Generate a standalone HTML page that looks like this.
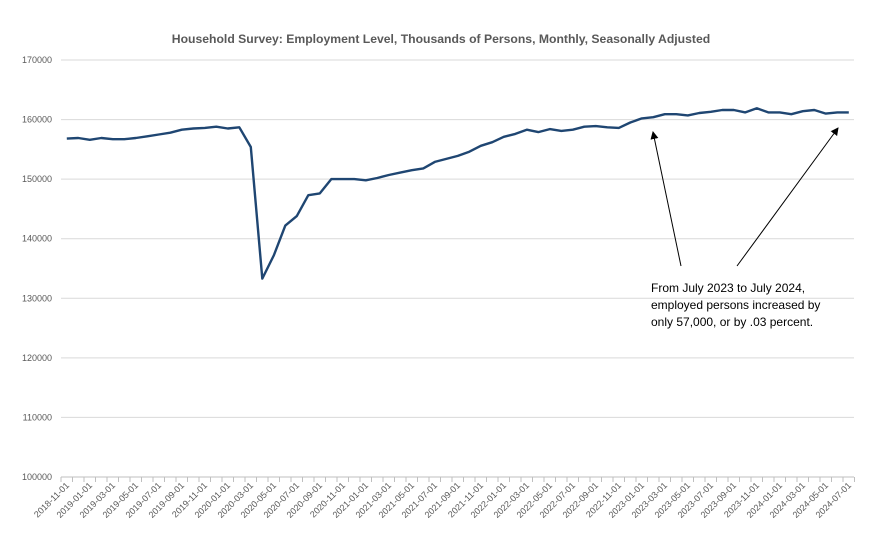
<!DOCTYPE html>
<html><head><meta charset="utf-8"><style>
body{margin:0;background:#fff}
svg{font-family:"Liberation Sans",sans-serif}
</style></head><body>
<svg id="s" width="873" height="544" viewBox="0 0 873 544" xmlns="http://www.w3.org/2000/svg">
<defs><marker id="ah" markerWidth="8" markerHeight="8" refX="7" refY="4" orient="auto" markerUnits="userSpaceOnUse"><path d="M0,0 L8,4 L0,8 z" fill="#000"/></marker></defs>
<text x="441" y="43" text-anchor="middle" font-size="12.2" font-weight="bold" fill="#595959">Household Survey: Employment Level, Thousands of Persons, Monthly, Seasonally Adjusted</text>
<g id="grid"></g>
<path id="line" fill="none" stroke="#1f4672" stroke-width="2.4" stroke-linejoin="round"/>
<line x1="681" y1="266" x2="653" y2="132" stroke="#000" stroke-width="1" marker-end="url(#ah)"/>
<line x1="737" y1="266" x2="838" y2="128" stroke="#000" stroke-width="1" marker-end="url(#ah)"/>
<text font-size="12" fill="#000"><tspan x="651" y="292">From July 2023 to July 2024,</tspan><tspan x="651" y="309">employed persons increased by</tspan><tspan x="651" y="326">only 57,000, or by .03 percent.</tspan></text>
</svg>
<script>
var d=[156.8,156.9,156.6,156.9,156.7,156.7,156.9,157.2,157.5,157.8,158.3,158.5,158.6,158.8,158.5,158.7,155.4,133.3,137.2,142.2,143.8,147.3,147.6,150.0,150.0,150.0,149.8,150.2,150.7,151.1,151.5,151.8,152.9,153.4,153.9,154.6,155.6,156.2,157.1,157.6,158.3,157.9,158.4,158.1,158.3,158.8,158.9,158.7,158.6,159.5,160.2,160.4,160.9,160.9,160.7,161.1,161.3,161.6,161.6,161.2,161.9,161.2,161.2,160.9,161.4,161.6,161.0,161.2,161.2];
var ns="http://www.w3.org/2000/svg",g=document.getElementById('grid');
function Y(v){return 60+(170-v)*417/70;}
function el(t,a,txt){var e=document.createElementNS(ns,t);for(var k in a)e.setAttribute(k,a[k]);if(txt)e.textContent=txt;g.appendChild(e);return e;}
for(var v=100;v<=170;v+=10){var y=Y(v);el('line',{x1:61,x2:854,y1:y,y2:y,stroke:v==100?'#bfbfbf':'#d9d9d9','stroke-width':1});el('text',{x:52,y:y+3,'text-anchor':'end','font-size':'9',fill:'#595959'},v*1000);}
var x0=61,w=11.5;
var p='';for(var i=0;i<d.length;i++){p+=(i?'L':'M')+(x0+w*(i+0.5)).toFixed(1)+','+Y(d[i]).toFixed(1);}
document.getElementById('line').setAttribute('d',p);
for(var i=0;i<=69;i++){var x=x0+w*i;el('line',{x1:x,x2:x,y1:477,y2:482,stroke:'#bfbfbf'});}
for(var i=0;i<69;i+=2){var m=10+i,yr=2018+Math.floor(m/12),mo=m%12+1;var x=x0+w*(i+0.5)+3;
el('text',{x:x,y:486,'text-anchor':'end','font-size':'9',fill:'#595959',transform:'rotate(-45 '+x+' 486)'},yr+'-'+(mo<10?'0':'')+mo+'-01');}
</script>
</body></html>
